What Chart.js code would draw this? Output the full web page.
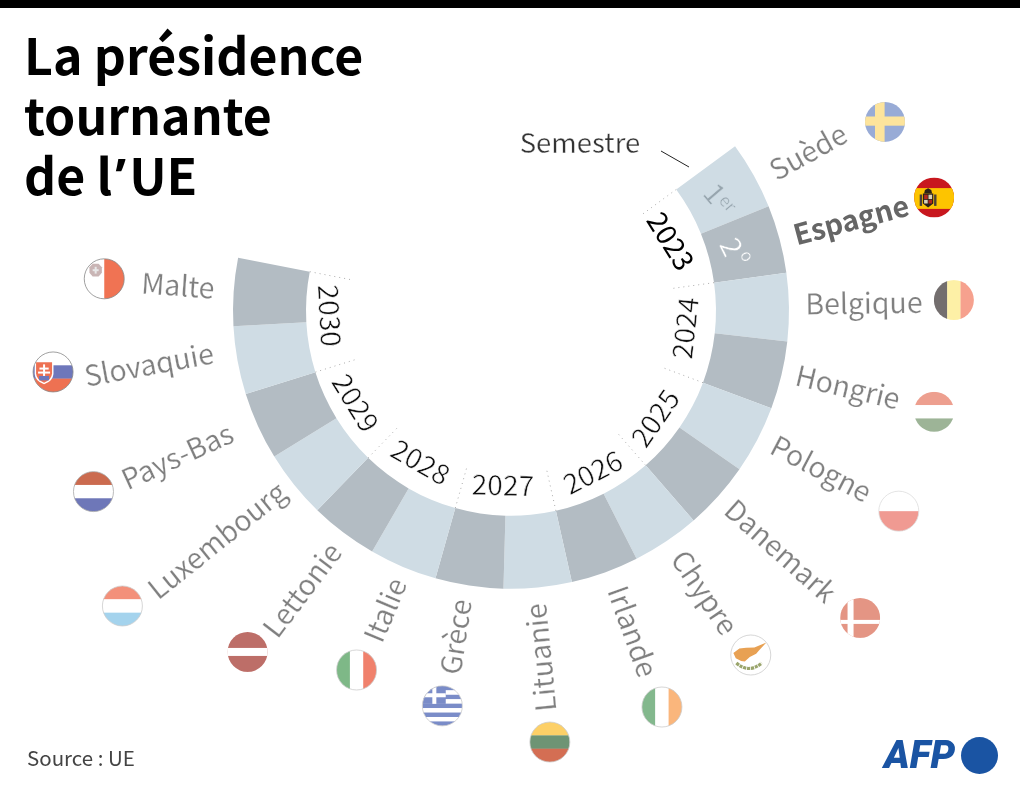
<!DOCTYPE html>
<html lang="fr">
<head>
<meta charset="utf-8">
<title>La présidence tournante de l'UE</title>
<script src="https://cdn.jsdelivr.net/npm/chart.js@4"></script>
<style>
  body { margin: 0; background: #fff; font-family: "Noto Sans CJK SC", "Noto Sans", sans-serif; }
  #wrap { position: relative; width: 1020px; height: 792px; overflow: hidden; }
  #topbar { position: absolute; left: 0; top: 0; width: 1020px; height: 8px; background: #000; }
  canvas { position: absolute; left: 0; top: 0; }
  h1 { position: absolute; left: 24px; top: 23px; margin: 0; font-size: 50px; line-height: 60px; font-weight: 700; color: #000; }
  h1 span { font-family: "Noto Sans", sans-serif; line-height: 0; margin: 0 3px; }
  #source { position: absolute; left: 27px; top: 742px; font-size: 20.5px; line-height: 30px; color: #444; }
  #afp { position: absolute; left: 884px; top: 733px; font: italic 900 39px/44px Roboto, sans-serif; color: #1a54a3; }
  #dot { position: absolute; left: 961px; top: 737px; width: 37px; height: 37px; border-radius: 50%; background: #1a54a3; }
</style>
</head>
<body>
<div id="wrap">
  <canvas id="ring" width="1020" height="792"></canvas>
  <div id="topbar"></div>
  <h1>La présidence<br>tournante<br>de l<span>’</span>UE</h1>
  <div id="source">Source : UE</div>
  <div id="afp">AFP</div>
  <div id="dot"></div>
</div>
<script>
// one slice per semester, 2023 to 2030
const countries = ['Suède', 'Espagne', 'Belgique', 'Hongrie', 'Pologne', 'Danemark', 'Chypre', 'Irlande',
  'Lituanie', 'Grèce', 'Italie', 'Lettonie', 'Luxembourg', 'Pays-Bas', 'Slovaquie', 'Malte'];
const semesters = [1, 1, 1, 1, 1, 1, 1, 1, 1, 1, 1, 1, 1, 1, 1, 1];
const years = ['2023', '2024', '2025', '2026', '2027', '2028', '2029', '2030'];

const LIGHT = '#cfdce4';
const DARK = '#b3bcc3';

// where the names and flags sit, relative to the middle of their slice
const labelDist = [337, 352, 353, 345.5, 348, 361, 342, 343, 348, 330.6, 324.5, 348.6, 373, 364, 366, 334];
const labelShift = [1, 0, -0.5, -0.7, -0.7, -0.2, -0.6, -1.1, 0.7, 1, 0, -0.2, 0.8, 1, 1.9, 0.5];
const flagDist = [419, 438, 443, 435, 436.5, 465, 419.5, 424, 433, 401, 391, 431, 488, 455, 462, 408];
const flagShift = [2.4, 0, -0.6, 0, -0.3, -0.5, -0.9, -1.1, 0.4, 1.2, 0.4, 0.6, 1.5, 1.1, 2.7, 0.6];
const yearDist = [174.6, 174.8, 179.4, 180.7, 174.2, 175.8, 180.2, 181];
const yearShift = [-1.5, -0.7, 1.9, 0, 1.1, 0.9, 1, 1.7];
const FLAG_R = 20;
const FONT = '"Noto Sans CJK SC", "Noto Sans", sans-serif';

function bandsH(ctx, colors) {
  const h = 2 / colors.length;
  colors.forEach((c, i) => { ctx.fillStyle = c; ctx.fillRect(-1, -1 + i * h, 2, h + 0.01); });
}
function bandsV(ctx, colors) {
  const w = 2 / colors.length;
  colors.forEach((c, i) => { ctx.fillStyle = c; ctx.fillRect(-1 + i * w, -1, w + 0.01, 2); });
}
function box(ctx, color, x0, y0, x1, y1) {
  ctx.fillStyle = color;
  ctx.fillRect(x0, y0, x1 - x0, y1 - y0);
}
function poly(ctx, color, pts) {
  ctx.fillStyle = color;
  ctx.beginPath();
  pts.forEach((p, i) => i ? ctx.lineTo(p[0], p[1]) : ctx.moveTo(p[0], p[1]));
  ctx.closePath();
  ctx.fill();
}

const flagDraw = {
  'Suède': c => { box(c, '#98abd6', -1, -1, 1, 1); box(c, '#fde49c', -0.5, -1, -0.02, 1); box(c, '#fde49c', -1, -0.27, 1, 0.19); },
  'Espagne': c => {
    box(c, '#c8171e', -1, -1, 1, 1); box(c, '#fdc400', -1, -0.47, 1, 0.57);
    // pillars
    box(c, '#4a4038', -0.72, -0.15, -0.6, 0.42); box(c, '#4a4038', 0, -0.15, 0.12, 0.42);
    // crown and shield
    poly(c, '#2a2018', [[-0.5, -0.2], [-0.46, -0.38], [-0.3, -0.46], [-0.14, -0.38], [-0.1, -0.2]]);
    poly(c, '#2a2018', [[-0.56, -0.2], [-0.04, -0.2], [-0.04, 0.3], [-0.3, 0.5], [-0.56, 0.3]]);
    box(c, '#b0281e', -0.5, -0.14, -0.32, 0.08); box(c, '#d8d0b8', -0.28, -0.14, -0.1, 0.08);
    box(c, '#d8d0b8', -0.5, 0.12, -0.32, 0.3); box(c, '#b0281e', -0.28, 0.12, -0.1, 0.3);
  },
  'Belgique': c => bandsV(c, ['#736e6e', '#fdf0a6', '#f6a18e']),
  'Hongrie': c => bandsH(c, ['#ed9f8f', '#ffffff', '#9db497']),
  'Pologne': c => bandsH(c, ['#ffffff', '#f09a92']),
  'Danemark': c => { box(c, '#e49584', -1, -1, 1, 1); box(c, '#fff', -0.63, -1, -0.33, 1); box(c, '#fff', -1, 0.1, 1, 0.3); },
  'Chypre': c => {
    box(c, '#fff', -1, -1, 1, 1);
    poly(c, '#e8a153', [[-0.87, -0.1], [-0.57, -0.32], [-0.23, -0.36], [0.18, -0.38], [0.78, -0.62], [0.42, -0.24],
      [0.27, -0.06], [-0.05, 0.1], [-0.3, 0.32], [-0.48, 0.3], [-0.75, 0.16]]);
    c.strokeStyle = '#9aa56c'; c.lineWidth = 0.16; c.setLineDash([0.16, 0.04]);
    c.beginPath(); c.moveTo(-0.72, 0.4); c.quadraticCurveTo(-0.1, 0.95, 0.55, 0.4); c.stroke(); c.setLineDash([]);
  },
  'Irlande': c => bandsV(c, ['#83b88d', '#ffffff', '#fab67c']),
  'Lituanie': c => bandsH(c, ['#fdd067', '#6e9474', '#d46e53']),
  'Grèce': c => {
    bandsH(c, ['#7a8cc8', '#fff', '#7a8cc8', '#fff', '#7a8cc8', '#fff', '#7a8cc8', '#fff', '#7a8cc8']);
    box(c, '#7a8cc8', -1, -1, 0.17, -0.1);
    box(c, '#fff', -0.5, -1, -0.3, -0.1); box(c, '#fff', -1, -0.63, 0.17, -0.43);
  },
  'Italie': c => bandsV(c, ['#7eb887', '#ffffff', '#f0816c']),
  'Lettonie': c => { box(c, '#bd6e68', -1, -1, 1, 1); box(c, '#fff', -1, -0.2, 1, 0.2); },
  'Luxembourg': c => bandsH(c, ['#f3907a', '#ffffff', '#a4d3ed']),
  'Pays-Bas': c => bandsH(c, ['#cb6b4f', '#ffffff', '#6e77b8']),
  'Slovaquie': c => {
    bandsH(c, ['#ffffff', '#6e77bb', '#ee7152']);
    c.fillStyle = '#fff';
    c.beginPath(); c.moveTo(-0.92, -0.55); c.lineTo(0.02, -0.55); c.lineTo(0.02, 0.1);
    c.quadraticCurveTo(0, 0.45, -0.45, 0.62); c.quadraticCurveTo(-0.9, 0.45, -0.92, 0.1); c.closePath(); c.fill();
    c.fillStyle = '#ee7152';
    c.beginPath(); c.moveTo(-0.85, -0.48); c.lineTo(-0.05, -0.48); c.lineTo(-0.05, 0.08);
    c.quadraticCurveTo(-0.07, 0.38, -0.45, 0.54); c.quadraticCurveTo(-0.83, 0.38, -0.85, 0.08); c.closePath(); c.fill();
    box(c, '#fff', -0.5, -0.38, -0.4, 0.2); box(c, '#fff', -0.68, -0.22, -0.22, -0.12); box(c, '#fff', -0.75, -0.02, -0.15, 0.08);
    box(c, '#6e77bb', -0.7, 0.2, -0.2, 0.42);
  },
  'Malte': c => {
    box(c, '#fff', -1, -1, 0, 1); box(c, '#f07353', 0, -1, 1, 1);
    poly(c, '#c9b5b5', [[-0.58, -0.75], [-0.28, -0.75], [-0.12, -0.58], [-0.12, -0.3], [-0.28, -0.12], [-0.58, -0.12], [-0.74, -0.3], [-0.74, -0.58]]);
    box(c, '#e8e8e8', -0.58, -0.48, -0.28, -0.38); box(c, '#e8e8e8', -0.48, -0.6, -0.38, -0.26);
  }
};
// flags with a white edge get a thin outline
const flagOutline = { 'Chypre': '#ccc', 'Irlande': '#ccc', 'Grèce': '#ccc', 'Italie': '#ccc', 'Lituanie': '#ccc',
  'Malte': '#888', 'Slovaquie': '#888', 'Pays-Bas': '#aaa', 'Luxembourg': '#ccc', 'Pologne': '#ddd' };

function drawFlag(ctx, name, x, y) {
  ctx.save();
  ctx.translate(x, y);
  ctx.save();
  ctx.beginPath();
  ctx.arc(0, 0, FLAG_R, 0, Math.PI * 2);
  ctx.clip();
  ctx.scale(FLAG_R, FLAG_R);
  flagDraw[name](ctx);
  ctx.restore();
  if (flagOutline[name]) {
    ctx.strokeStyle = flagOutline[name];
    ctx.lineWidth = 0.8;
    ctx.beginPath();
    ctx.arc(0, 0, FLAG_R, 0, Math.PI * 2);
    ctx.stroke();
  }
  ctx.restore();
}

// thin > 0 trims the glyphs with the colour behind them, the font has no light weight here
function rotatedText(ctx, text, x, y, angle, font, color, thin, behind) {
  ctx.save();
  ctx.translate(x, y);
  ctx.rotate(angle);
  ctx.font = font;
  ctx.fillStyle = color;
  ctx.textAlign = 'center';
  ctx.textBaseline = 'middle';
  ctx.fillText(text, 0, 0);
  if (thin) {
    ctx.strokeStyle = behind || '#fff';
    ctx.lineWidth = thin;
    ctx.strokeText(text, 0, 0);
  }
  ctx.restore();
}

const ringLabels = {
  id: 'ringLabels',
  afterDatasetsDraw(chart) {
    const ctx = chart.ctx;
    const arcs = chart.getDatasetMeta(0).data;
    const cx = arcs[0].x, cy = arcs[0].y;
    const inner = arcs[0].innerRadius;
    const deg = Math.PI / 180;

    // dotted ticks between the years
    ctx.save();
    ctx.strokeStyle = '#aaa';
    ctx.lineWidth = 1;
    ctx.setLineDash([1, 4]);
    for (let i = 0; i <= years.length; i++) {
      const a = i < years.length ? arcs[i * 2].startAngle : arcs[15].endAngle;
      ctx.beginPath();
      ctx.moveTo(cx + Math.cos(a) * inner, cy + Math.sin(a) * inner);
      ctx.lineTo(cx + Math.cos(a) * (inner - 45), cy + Math.sin(a) * (inner - 45));
      ctx.stroke();
    }
    ctx.restore();

    // years, along the inside of the ring
    years.forEach((year, i) => {
      const a = arcs[i * 2].endAngle;
      const p = a + yearShift[i] * deg;
      const first = i === 0;
      rotatedText(ctx, year, cx + Math.cos(p) * yearDist[i], cy + Math.sin(p) * yearDist[i],
        first ? a + Math.PI / 2 - 10 * deg : a - Math.PI / 2,
        '400 28px ' + FONT, first ? '#000' : '#111', first ? 0 : 0.55);
    });

    // country names and flags
    countries.forEach((name, i) => {
      const mid = (arcs[i].startAngle + arcs[i].endAngle) / 2;
      const la = mid + labelShift[i] * deg;
      const spain = name === 'Espagne';
      rotatedText(ctx, name, cx + Math.cos(la) * labelDist[i], cy + Math.sin(la) * labelDist[i],
        i >= 8 ? mid - Math.PI : mid,
        (spain ? '700 ' : '400 ') + '28.5px ' + FONT, spain ? '#666' : '#808080', spain ? 0 : 0.2);
      const fa = mid + flagShift[i] * deg;
      drawFlag(ctx, name, cx + Math.cos(fa) * flagDist[i], cy + Math.sin(fa) * flagDist[i]);
    });

    // semester key on the first two slices
    const m0 = (arcs[0].startAngle + arcs[0].endAngle) / 2;
    const m1 = (arcs[1].startAngle + arcs[1].endAngle) / 2;
    const rot0 = m0 + Math.PI / 2 - 11 * deg, rot1 = m1 + Math.PI / 2 - 11 * deg;
    const x0 = cx + Math.cos(m0 - 0.8 * deg) * 235.7, y0 = cy + Math.sin(m0 - 0.8 * deg) * 235.7;
    const x1 = cx + Math.cos(m1 - 1.2 * deg) * 230, y1 = cy + Math.sin(m1 - 1.2 * deg) * 230;
    rotatedText(ctx, '1', x0, y0, rot0, '400 29px ' + FONT, '#97a5ae', 0.5, LIGHT);
    rotatedText(ctx, 'er', x0 + 16 * Math.cos(rot0) + 3.6 * Math.sin(rot0), y0 + 16 * Math.sin(rot0) - 3.6 * Math.cos(rot0),
      rot0, '400 17px ' + FONT, '#97a5ae', 0.4, LIGHT);
    rotatedText(ctx, '2', x1, y1, rot1, '400 29px ' + FONT, '#fff', 0.5, DARK);
    rotatedText(ctx, 'o', x1 + 15 * Math.cos(rot1) + 10 * Math.sin(rot1), y1 + 15 * Math.sin(rot1) - 10 * Math.cos(rot1),
      rot1, '400 17px ' + FONT, '#fff', 0.4, DARK);

    // pointer from the word Semestre
    rotatedText(ctx, 'Semestre', 580, 143, 0, '400 27.5px ' + FONT, '#333', 0.3);
    ctx.save();
    ctx.strokeStyle = '#222';
    ctx.lineWidth = 1;
    ctx.beginPath();
    ctx.moveTo(661, 151);
    ctx.lineTo(689, 167);
    ctx.stroke();
    ctx.restore();
  }
};

new Chart(document.getElementById('ring'), {
  type: 'doughnut',
  data: {
    labels: countries,
    datasets: [{
      data: semesters,
      backgroundColor: semesters.map((v, i) => i % 2 ? DARK : LIGHT),
      borderWidth: 0
    }]
  },
  options: {
    responsive: false,
    animation: false,
    rotation: 53.7,
    circumference: 227.3,
    radius: 278,
    cutout: '73.74%',
    layout: { padding: { left: 2, bottom: 57 } },
    plugins: { legend: { display: false }, tooltip: { enabled: false } }
  },
  plugins: [ringLabels]
});
</script>
</body>
</html>
